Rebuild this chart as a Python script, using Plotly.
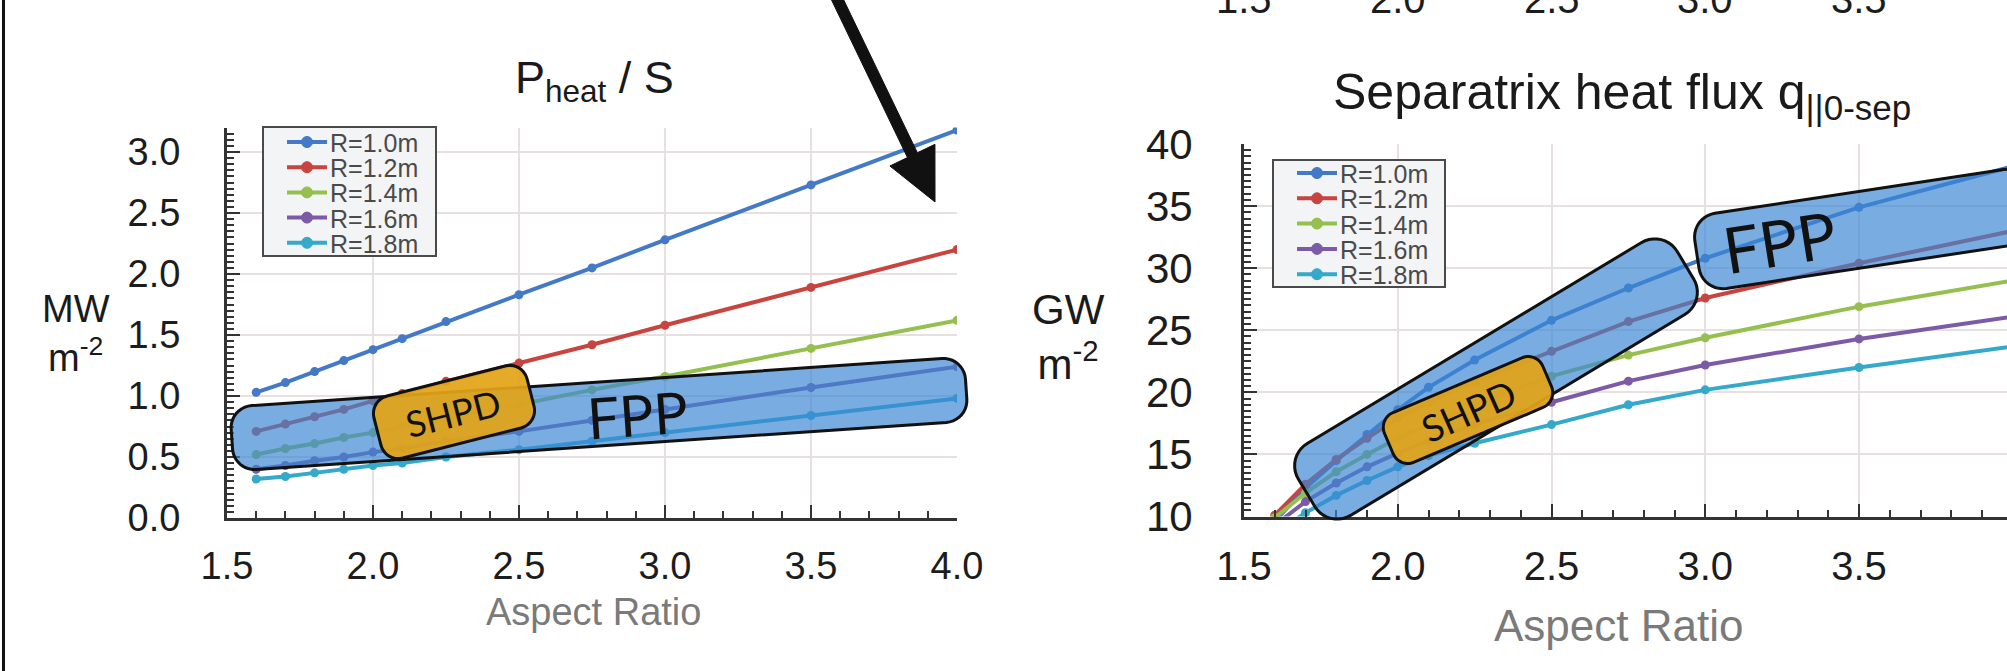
import math
import plotly.graph_objects as go

W, H = 2007, 671

# ---- data -------------------------------------------------------------
aspect_ratio = [1.6, 1.7, 1.8, 1.9, 2.0, 2.1, 2.25, 2.5, 2.75, 3.0, 3.5, 4.0]
series_names = ["R=1.0m", "R=1.2m", "R=1.4m", "R=1.6m", "R=1.8m"]
series_colors = ["#4379c6", "#c8443f", "#95bf4f", "#7c5aa6", "#35a9c9"]

# P_heat / S  [MW m^-2]
pheat_r10 = [1.03, 1.11, 1.20, 1.29, 1.38, 1.47, 1.61, 1.83, 2.05, 2.28, 2.73, 3.18]
pheat_r12 = [0.71, 0.77, 0.83, 0.89, 0.96, 1.02, 1.12, 1.27, 1.42, 1.58, 1.89, 2.20]
pheat_r14 = [0.52, 0.57, 0.61, 0.66, 0.70, 0.75, 0.82, 0.93, 1.05, 1.16, 1.39, 1.62]
pheat_r16 = [0.40, 0.43, 0.47, 0.50, 0.54, 0.57, 0.63, 0.71, 0.80, 0.89, 1.07, 1.24]
pheat_r18 = [0.32, 0.34, 0.37, 0.40, 0.43, 0.45, 0.50, 0.56, 0.63, 0.70, 0.84, 0.98]

# separatrix heat flux q_||0-sep  [GW m^-2]
qsep_r10 = [9.6, 12.3, 14.5, 16.6, 18.6, 20.4, 22.6, 25.8, 28.4, 30.8, 34.9, 38.2]
qsep_r12 = [10.1, 12.6, 14.6, 16.3, 17.9, 19.2, 20.9, 23.3, 25.7, 27.6, 30.4, 33.0]
qsep_r14 = [9.9, 11.9, 13.6, 15.0, 16.3, 17.4, 19.0, 21.3, 23.0, 24.4, 26.9, 29.0]
qsep_r16 = [9.3, 11.2, 12.7, 14.0, 15.1, 16.1, 17.4, 19.2, 20.9, 22.2, 24.3, 26.1]
qsep_r18 = [8.6, 10.3, 11.7, 12.9, 14.0, 14.9, 15.9, 17.4, 19.0, 20.2, 22.0, 23.7]

x_ticks_top = [1.5, 2.0, 2.5, 3.0, 3.5, 4.0]

pheat = [pheat_r10, pheat_r12, pheat_r14, pheat_r16, pheat_r18]
qsep = [qsep_r10, qsep_r12, qsep_r14, qsep_r16, qsep_r18]

# ---- helpers (page pixels -> paper) -------------------------------------
def px(x):
    return x / W

def py(y):
    return 1 - y / H


def rounded_band(cx, cy, length, thick, angle, r, n=10):
    """Rounded rectangle rotated by `angle` degrees (counter-clockwise on screen)."""
    a = math.radians(angle)
    ux, uy = math.cos(a), -math.sin(a)
    vx, vy = math.sin(a), math.cos(a)
    hl, ht = length / 2 - r, thick / 2 - r
    corners = [(hl, -ht, -90), (hl, ht, 0), (-hl, ht, 90), (-hl, -ht, 180)]
    pts = []
    for cu, cv, t0 in corners:
        for k in range(n + 1):
            t = math.radians(t0 + 90 * k / n)
            u = cu + r * math.cos(t)
            v = cv + r * math.sin(t)
            pts.append((cx + u * ux + v * vx, cy + u * uy + v * vy))
    path = "M " + " L ".join(f"{px(x):.5f},{py(y):.5f}" for x, y in pts) + " Z"
    return path


FONT = "Liberation Sans, Arial, sans-serif"
CALLOUT_FONT = "Lato, Open Sans, sans-serif"

fig = go.Figure()

for name, color, ys in zip(series_names, series_colors, pheat):
    fig.add_trace(go.Scatter(
        x=aspect_ratio, y=ys, name=name, mode="lines+markers", showlegend=False,
        line=dict(color=color, width=4), marker=dict(color=color, size=9),
        xaxis="x", yaxis="y"))

for name, color, ys in zip(series_names, series_colors, qsep):
    fig.add_trace(go.Scatter(
        x=aspect_ratio, y=ys, name=name, mode="lines+markers", showlegend=False,
        line=dict(color=color, width=4), marker=dict(color=color, size=9),
        xaxis="x2", yaxis="y2"))

axis_common = dict(
    showline=True, linecolor="#333333", linewidth=3,
    ticks="inside", ticklen=13, tickwidth=2, tickcolor="#333333",
    showgrid=True, gridcolor="#e6e0e0", gridwidth=2,
    zeroline=False, tickfont=dict(family=FONT, size=38, color="#1c1c1c"),
)

# right panel: 1.5 at x=1244 px, 307.5 px per unit, cut at the page edge
right_x_end = 1.5 + (W - 1244) / 307.5

fig.update_layout(
    width=W, height=H,
    margin=dict(l=0, r=0, t=0, b=0, autoexpand=False),
    paper_bgcolor="white", plot_bgcolor="white",
    showlegend=False,
    xaxis=dict(axis_common, domain=[227 / W, 957 / W], range=[1.5, 4.0],
               dtick=0.5, tick0=1.5, tickformat=".1f", anchor="y",
               ticklabelstandoff=12,
               minor=dict(dtick=0.1, ticks="inside", ticklen=7, tickwidth=2,
                          tickcolor="#333333", showgrid=False)),
    yaxis=dict(axis_common, domain=[py(518), py(127.6)], range=[0, 3.2],
               dtick=0.5, tick0=0, tickformat=".1f", anchor="x",
               ticklabelstandoff=36,
               minor=dict(dtick=0.05, ticks="inside", ticklen=7, tickwidth=2,
                          tickcolor="#333333", showgrid=False)),
    xaxis2=dict(axis_common, domain=[1244 / W, 1.0], range=[1.5, right_x_end],
                dtick=0.5, tick0=1.5, tickformat=".1f", anchor="y2",
                ticklabelstandoff=12, tickfont=dict(family=FONT, size=40, color="#1c1c1c"),
                minor=dict(dtick=0.1, ticks="inside", ticklen=7, tickwidth=2,
                           tickcolor="#333333", showgrid=False)),
    yaxis2=dict(axis_common, domain=[py(516.5), py(144)], range=[10, 40],
                dtick=5, tick0=10, anchor="x2",
                ticklabelstandoff=40, tickfont=dict(family=FONT, size=42, color="#1c1c1c"),
                minor=dict(dtick=0.5, ticks="inside", ticklen=7, tickwidth=2,
                           tickcolor="#333333", showgrid=False)),
)

shapes = []
ann = []


def text(x, y, s, size, color="#111111", family=FONT, angle=0, xanchor="center", yanchor="middle"):
    ann.append(dict(x=px(x), y=py(y), xref="paper", yref="paper", text=s,
                    showarrow=False, xanchor=xanchor, yanchor=yanchor, textangle=angle,
                    font=dict(family=family, size=size, color=color)))


def legend_box(x0, y0, x1, y1, row0, step, line_x0):
    """Framed key: line sample with a dot, then the series name."""
    shapes.append(dict(type="rect", xref="paper", yref="paper", layer="above",
                       x0=px(x0), x1=px(x1), y0=py(y1), y1=py(y0),
                       fillcolor="#f3f4f6", line=dict(color="#4a4a4a", width=2)))
    for i, (name, color) in enumerate(zip(series_names, series_colors)):
        yy = row0 + step * i
        shapes.append(dict(type="line", xref="paper", yref="paper", layer="above",
                           x0=px(line_x0), x1=px(line_x0 + 40), y0=py(yy), y1=py(yy),
                           line=dict(color=color, width=4)))
        cx = line_x0 + 20
        shapes.append(dict(type="circle", xref="paper", yref="paper", layer="above",
                           x0=px(cx - 5.5), x1=px(cx + 5.5), y0=py(yy + 5.5), y1=py(yy - 5.5),
                           fillcolor=color, line=dict(color=color, width=1)))
        text(line_x0 + 41, yy + 1, name, 25, "#4a4a4a", xanchor="left")


legend_box(263, 127, 436, 256, 142, 25.2, 287)
legend_box(1273, 160, 1445, 287, 173, 25.3, 1297)

FPP_FILL = "rgba(58,134,212,0.68)"
SHPD_FILL = "rgba(226,164,24,0.93)"
EDGE = dict(color="#111111", width=3)

callouts = [
    # (cx, cy, length, thickness, angle, radius, fill)
    (599, 414, 736, 64, 3.9, 22, FPP_FILL),
    (454, 412, 158, 64, 14.3, 18, SHPD_FILL),
    (1496, 379, 442, 84, 31.0, 26, FPP_FILL),
    (1865, 229, 340, 76, 8.6, 24, FPP_FILL),
    (1468, 410, 172, 54, 23.0, 16, SHPD_FILL),
]
for cx, cy, ln, th, ang, r, fill in callouts:
    shapes.append(dict(type="path", xref="paper", yref="paper", layer="above",
                       path=rounded_band(cx, cy, ln, th, ang, r),
                       fillcolor=fill, line=EDGE))

# heavy black arrow pointing to the top of the left panel
tip = (935, 202)
tail = (828, -20)
dx, dy = tip[0] - tail[0], tip[1] - tail[1]
L = math.hypot(dx, dy)
ux, uy = dx / L, dy / L
nx, ny = -uy, ux
head_len, head_half, shaft_half = 52, 25, 5.5
bx, by = tip[0] - ux * head_len, tip[1] - uy * head_len
arrow_pts = [
    (tail[0] + nx * shaft_half, tail[1] + ny * shaft_half),
    (bx + nx * shaft_half, by + ny * shaft_half),
    (bx + nx * head_half, by + ny * head_half),
    tip,
    (bx - nx * head_half, by - ny * head_half),
    (bx - nx * shaft_half, by - ny * shaft_half),
    (tail[0] - nx * shaft_half, tail[1] - ny * shaft_half),
]
shapes.append(dict(type="path", xref="paper", yref="paper", layer="above",
                   path="M " + " L ".join(f"{px(x):.5f},{py(y):.5f}" for x, y in arrow_pts) + " Z",
                   fillcolor="#111111", line=dict(color="#111111", width=1)))

# left page border
shapes.append(dict(type="line", xref="paper", yref="paper", layer="above",
                   x0=px(3.5), x1=px(3.5), y0=0, y1=1,
                   line=dict(color="#111111", width=3)))

# panel titles
text(594, 80, "P<sub>heat</sub> / S", 45, "#1a1a1a")
text(1622, 95, "Separatrix heat flux q<sub>||0-sep</sub>", 50, "#1a1a1a")

# axis titles
text(76, 333, "MW<br>m<sup>-2</sup>", 38, "#1a1a1a")
text(1068, 337, "GW<br>m<sup>-2</sup>", 42, "#1a1a1a")
text(593, 612, "Aspect Ratio", 38, "#7a7a7a")
text(1618, 625, "Aspect Ratio", 44, "#7a7a7a")

# callout labels
text(453, 413, "SHPD", 36, "#111111", CALLOUT_FONT, -14)
text(637, 414, "FPP", 57, "#111111", CALLOUT_FONT, -4)
text(1468, 410, "SHPD", 37, "#111111", CALLOUT_FONT, -24)
text(1779, 242, "FPP", 64, "#111111", CALLOUT_FONT, -9)

fig.update_layout(shapes=shapes, annotations=ann)

# tick labels of the panel above, cut by the top edge of the page
for v in x_ticks_top:
    fig.add_annotation(x=v, xref="x2", y=py(-1), yref="paper", text=f"{v:.1f}",
                       showarrow=False, xanchor="center", yanchor="middle",
                       font=dict(family=FONT, size=40, color="#1c1c1c"))

# the 4.0 label of the right panel sits on the page edge
fig.add_annotation(x=4.0, xref="x2", y=py(563), yref="paper", text="4.0",
                   showarrow=False, xanchor="center", yanchor="middle",
                   font=dict(family=FONT, size=40, color="#1c1c1c"))

fig.write_html("out.html")
